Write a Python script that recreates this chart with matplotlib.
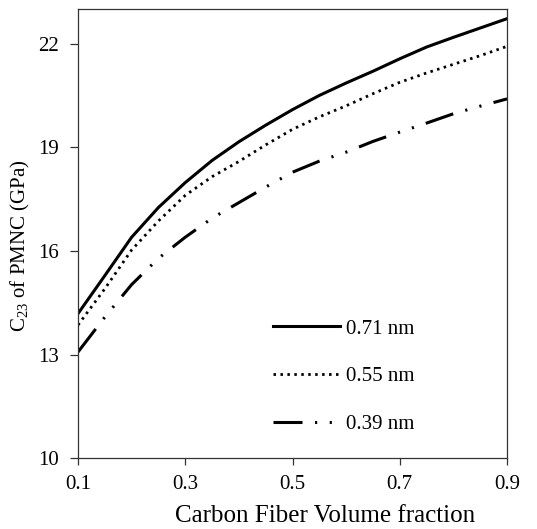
import matplotlib
matplotlib.use('Agg')
import matplotlib.pyplot as plt

# carbon fiber volume fraction
vf = [0.1, 0.15, 0.2, 0.25, 0.3, 0.35, 0.4, 0.45, 0.5,
      0.55, 0.6, 0.65, 0.7, 0.75, 0.8, 0.85, 0.9]

# C23 of PMNC (GPa) for three nanotube radii
c23_071 = [14.19, 15.29, 16.40, 17.26, 17.98, 18.62, 19.16, 19.64, 20.09,
           20.50, 20.86, 21.20, 21.56, 21.90, 22.18, 22.45, 22.72]
c23_055 = [13.86, 14.91, 16.03, 16.87, 17.61, 18.15, 18.59, 19.07, 19.52,
           19.88, 20.20, 20.55, 20.88, 21.15, 21.40, 21.65, 21.92]
c23_039 = [13.08, 14.09, 15.03, 15.79, 16.40, 16.95, 17.40, 17.85, 18.28,
           18.60, 18.86, 19.17, 19.44, 19.70, 19.97, 20.19, 20.40]

labels = ['0.71 nm', '0.55 nm', '0.39 nm']
xticks = [0.1, 0.3, 0.5, 0.7, 0.9]
yticks = [10, 13, 16, 19, 22]

plt.rcParams['font.family'] = ['Liberation Serif', 'DejaVu Serif']
plt.rcParams['mathtext.fontset'] = 'custom'
plt.rcParams['mathtext.rm'] = 'Liberation Serif'
plt.rcParams['mathtext.it'] = 'Liberation Serif:italic'

fig = plt.figure(figsize=(5.37, 5.29), dpi=100)
ax = fig.add_axes([0.1453, 0.1333, 0.7989, 0.8497])

ax.plot(vf, c23_071, color='black', lw=2.2, label=labels[0])
ax.plot(vf, c23_055, color='black', lw=2.0, linestyle=(0, (0.9, 1.6)), label=labels[1])
ax.plot(vf, c23_039, color='black', lw=2.2,
        linestyle=(0, (9.5, 4.1, 0.7, 4.1, 0.7, 4.1)), label=labels[2])

ax.set_xlim(0.1, 0.9)
ax.set_ylim(10, 23)
ax.set_xticks(xticks)
ax.set_xticklabels([str(t) for t in xticks])
ax.set_yticks(yticks)

for s in ax.spines.values():
    s.set_color('#333333')
    s.set_linewidth(0.9)

ax.tick_params(axis='x', direction='out', length=5, width=0.9, pad=7,
               labelsize=15, colors='#333333', labelcolor='black')
ax.tick_params(axis='y', direction='out', length=6, width=0.9, pad=8,
               labelsize=15, colors='#333333', labelcolor='black')

ax.set_xlabel('Carbon Fiber Volume fraction', fontsize=18, labelpad=8)
ax.xaxis.label.set_x(0.576)
ax.set_ylabel(r'C$_{\mathrm{23}}$ of PMNC (GPa)', fontsize=15, labelpad=4)
ax.yaxis.label.set_y(0.472)

leg = ax.legend(loc='upper left', bbox_to_anchor=(0.455, 0.31), frameon=False,
                fontsize=15, handlelength=3.2, handletextpad=0.3,
                labelspacing=1.35, borderpad=0, borderaxespad=0)

fig.savefig('out.png', dpi=100)
